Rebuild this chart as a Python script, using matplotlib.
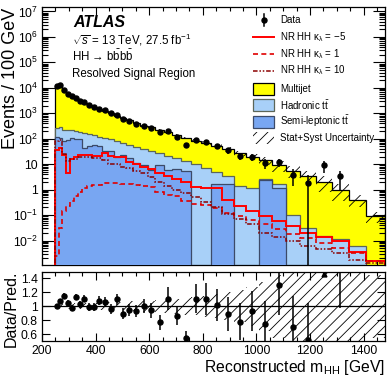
import numpy as np
import matplotlib
matplotlib.use('Agg')
import matplotlib.pyplot as plt
from matplotlib.ticker import FixedLocator, FixedFormatter, MultipleLocator, NullFormatter
from matplotlib.lines import Line2D
from matplotlib.patches import Rectangle

plt.rcParams['font.family'] = ['Liberation Sans', 'DejaVu Sans']
plt.rcParams['mathtext.fontset'] = 'custom'
plt.rcParams['mathtext.rm'] = 'Liberation Sans'
plt.rcParams['mathtext.it'] = 'Liberation Sans:italic'
plt.rcParams['mathtext.bf'] = 'Liberation Sans:bold'
plt.rcParams['hatch.linewidth'] = 0.6

# ---------------- data ----------------
bin_edges = [250, 262, 275, 289, 303, 318, 334, 350, 367, 385, 404, 424, 445, 467,
             490, 514, 539, 566, 594, 623, 654, 686, 720, 755, 792, 831, 872, 915,
             960, 1008, 1057, 1109, 1164, 1221, 1281, 1344, 1410, 1480]

multijet = [11487, 12000, 7019, 5270, 4452, 3338, 2900, 2342, 1983, 1643, 1293, 1125,
            952, 728, 591, 467, 359, 291, 254, 202, 156, 120, 93, 73, 62, 47, 35.7,
            26.1, 18.8, 12.2, 7.7, 5.5, 3.47, 2.08, 0.99, 0.40, 0.09]
hadronic = [146, 193, 146, 134, 118, 113, 93, 127, 105, 77, 70, 73, 63, 65, 46, 40.5,
            37, 30.4, 27.9, 17.4, 15.9, 11.5, 8.8, 10, 7, 3.3, 1.7, 1.4, 1.2, 0.2, 0.4,
            0.1, 0.03, 0.015, 0.012, 0.006, 0]
semileptonic = [117, 107, 79, 91, 107, 97, 97, 43, 50, 58, 50, 32, 32, 20, 24, 17.5,
                11, 9.6, 6.1, 9.6, 6.1, 6.5, 5.2, 0, 0, 1.7, 1.6, 0, 0, 2.4, 1.2,
                0, 0, 0, 0, 0, 0]
syst_rel = [0.03, 0.03, 0.035, 0.035, 0.035, 0.04, 0.04, 0.04, 0.045, 0.045, 0.05, 0.05,
            0.055, 0.06, 0.06, 0.07, 0.07, 0.08, 0.08, 0.09, 0.10, 0.11, 0.12, 0.13,
            0.15, 0.17, 0.20, 0.23, 0.28, 0.35, 0.45, 0.48, 0.50, 0.60, 0.65, 0.50, 0.45]

sig_km5 = [37.2, 42.7, 23.4, 4.5, 15.8, 20.0, 23.4, 24.0, 24.0, 21.4, 21.4, 26.9, 21.4,
           20.0, 18.6, 12.0, 10.0, 7.6, 6.3, 4.5, 3.3, 2.6, 2.0, 1.32, 1.2, 1.12, 0.38,
           0.22, 0.14, 0.089, 0.058, 0.039, 0.020, 0.014, 0.010, 0.0035, 0.0016]
sig_k1 = [0.0025, 0.032, 0.14, 0.22, 0.35, 0.56, 0.79, 1.12, 1.35, 1.48, 1.58, 1.91,
          1.86, 1.78, 1.74, 1.66, 1.58, 1.41, 1.26, 0.79, 0.63, 0.55, 0.35, 0.28, 0.25,
          0.19, 0.126, 0.089, 0.063, 0.043, 0.028, 0.018, 0.0126, 0.0079, 0.005,
          0.0032, 0.0016]
sig_k10 = [79, 89, 25, 14, 15.8, 16.6, 20, 20, 20, 17.4, 17.4, 15.1, 10.5, 10.5, 7.9,
           7.1, 5.2, 4.5, 3.16, 2.0, 1.41, 1.0, 0.71, 0.5, 0.32, 0.2, 0.112, 0.071,
           0.045, 0.02, 0.014, 0.01, 0.0063, 0.0045, 0.0032, 0.0018, 0.0013]

# observed data / prediction (35 filled bins) and its stat. error
ratio_obs = [1.01, 1.07, 1.15, 1.05, 0.98, 1.13, 1.03, 1.11, 0.99, 0.99, 1.08, 1.06,
             0.96, 1.10, 0.89, 0.95, 0.93, 1.00, 0.94, 0.77, 1.11, 0.86, 0.55, 1.11,
             1.11, 1.02, 0.89, 0.78, 0.93, 0.75, 1.31, 0.70, 0.52, 4.3, 3.3]
ratio_err = [0.025, 0.03, 0.035, 0.04, 0.04, 0.045, 0.05, 0.05, 0.055, 0.06, 0.065,
             0.07, 0.075, 0.08, 0.08, 0.085, 0.09, 0.10, 0.11, 0.11, 0.17, 0.13, 0.09,
             0.21, 0.23, 0.23, 0.24, 0.26, 0.29, 0.33, 0.44, 0.45, 0.52, 2.1, 2.32]

x_ticks = [200, 400, 600, 800, 1000, 1200, 1400]
y_ticks = [1e-2, 1e-1, 1, 10, 1e2, 1e3, 1e4, 1e5, 1e6, 1e7]
y_ticklabels = ['$10^{-2}$', '$10^{-1}$', '1', '10', '$10^{2}$', '$10^{3}$',
                '$10^{4}$', '$10^{5}$', '$10^{6}$', '$10^{7}$']
r_ticks = [0.6, 0.8, 1.0, 1.2, 1.4]
r_ticklabels = ['0.6', '0.8', '1', '1.2', '1.4']

# ---------------- figure ----------------
W, H = 390, 378
fig = plt.figure(figsize=(W / 100, H / 100), dpi=100)
def fx(px): return px / W
def fy(py): return 1 - py / H

ax = fig.add_axes([fx(42), fy(265), fx(385) - fx(42), fy(7) - fy(265)])
rax = fig.add_axes([fx(42), fy(341), fx(385) - fx(42), fy(271.5) - fy(341)])

edges = np.array(bin_edges, float)
centers = 0.5 * (edges[1:] + edges[:-1])
S = np.array(semileptonic, float)
Hd = np.array(hadronic, float)
M = np.array(multijet, float)
T = S + Hd + M
floor = 1e-6

def pos(v):
    v = np.asarray(v, float)
    return np.where(v > 0, v, floor)

col_mj, col_had, col_sl = '#ffff00', '#a8d0f8', '#78a6f2'
layers = [(T, col_mj, '#000000'), (S + Hd, col_had, '#5c6658'), (S, col_sl, '#3c4a68')]
for i, (vals, fc, ec) in enumerate(layers):
    ax.stairs(pos(vals), edges, baseline=floor, fill=True, color=fc, lw=0, zorder=1 + i)
    ax.stairs(pos(vals), edges, baseline=floor, fill=False, color=ec, lw=0.9, zorder=1.5 + i)

ax.stairs(pos(sig_km5), edges, baseline=floor, color='#ff0000', lw=1.4, zorder=5)
ax.stairs(pos(sig_k1), edges, baseline=floor, color='#e00000', lw=1.2, ls=(0, (3, 2)), zorder=5)
ax.stairs(pos(sig_k10), edges, baseline=floor, color='#8b0000', lw=1.1,
          ls=(0, (3, 1.2, 1, 1.2, 1, 1.2)), zorder=5)

syst = np.array(syst_rel)
ax.stairs(T * (1 + syst), edges, baseline=T * (1 - syst), fill=True, facecolor='none',
          edgecolor='k', hatch='///', lw=0, zorder=6)

n = len(ratio_obs)
rv = np.array(ratio_obs)
re = np.array(ratio_err)
D = rv * T[:n]
De = re * T[:n]
lo = np.minimum(De, D - floor)
ax.errorbar(centers[:n], D, yerr=[lo, De], fmt='o', color='k', ms=3.6, lw=1.1,
            capsize=0, zorder=8)

ax.set_yscale('log')
ax.set_xlim(200, 1480)
ax.set_ylim(1.1e-3, 1.5e7)
ax.yaxis.set_major_locator(FixedLocator(y_ticks))
ax.yaxis.set_major_formatter(FixedFormatter(y_ticklabels))
minors = [m * 10.0 ** e for e in range(-3, 8) for m in range(2, 10)]
ax.yaxis.set_minor_locator(FixedLocator(minors))
ax.yaxis.set_minor_formatter(NullFormatter())
ax.xaxis.set_major_locator(FixedLocator(x_ticks))
ax.xaxis.set_minor_locator(MultipleLocator(50))
ax.tick_params(axis='x', labelbottom=False)

# ratio panel
rax.stairs(1 + syst, edges, baseline=1 - syst, fill=True, facecolor='none',
           edgecolor='k', hatch='///', lw=0, zorder=2)
rax.axhline(1.0, color='k', lw=0.9, zorder=3)
rax.errorbar(centers[:n], rv, yerr=re, fmt='o', color='k', ms=3.6, lw=1.1,
             capsize=0, zorder=5, clip_on=True)
off = (rv - re) > 1.5
rax.plot(centers[:n][off], np.full(off.sum(), 1.465), '^', color='k', ms=3.5, zorder=6)
rax.set_xlim(200, 1480)
rax.set_ylim(0.5, 1.5)
rax.yaxis.set_major_locator(FixedLocator(r_ticks))
rax.yaxis.set_major_formatter(FixedFormatter(r_ticklabels))
rax.xaxis.set_major_locator(FixedLocator(x_ticks))
rax.xaxis.set_minor_locator(MultipleLocator(50))

for a in (ax, rax):
    a.tick_params(which='both', direction='in', top=True, right=True, labelsize=8.8,
                  width=0.8, pad=3)
    for sp in a.spines.values():
        sp.set_linewidth(0.9)
ax.tick_params(axis='y', which='major', length=9)
ax.tick_params(axis='y', which='minor', length=4.5)
ax.tick_params(axis='x', which='major', length=6)
ax.tick_params(axis='x', which='minor', length=3)
rax.tick_params(axis='y', which='major', length=6)
rax.tick_params(axis='x', which='major', length=6)
rax.tick_params(axis='x', which='minor', length=3)

fig.text(fx(11), fy(8), 'Events / 100 GeV', rotation=90, ha='center', va='top', fontsize=13)
fig.text(fx(11), fy(347), 'Data/Pred.', rotation=90, ha='center', va='bottom', fontsize=11.5)
fig.text(fx(385), fy(372), r'Reconstructed m$_{\mathrm{HH}}$ [GeV]', ha='right',
         va='baseline', fontsize=11.3)

# annotations
fig.text(fx(73), fy(27), 'ATLAS', fontsize=11.5, fontweight='bold', style='italic',
         va='baseline')
fig.text(fx(72), fy(44), r'$\sqrt{s}$ = 13 TeV, 27.5 fb$^{-1}$', fontsize=8.3, va='baseline')
fig.text(fx(72), fy(61), r'HH → $\mathrm{b\bar{b}b\bar{b}}$', fontsize=8.3, va='baseline')
fig.text(fx(72), fy(77.5), 'Resolved Signal Region', fontsize=8.3, va='baseline')

# legend (manual)
lx0, lx1, tx = 253, 274, 280
fs_leg = 7
def tr(px, py): return (fx(px), fy(py))
fig.add_artist(Line2D([fx(263.5)] * 2, [fy(14), fy(26)], color='k', lw=1.1))
fig.add_artist(Line2D([fx(263.5)], [fy(20)], marker='o', color='k', ms=3.6))
fig.text(*tr(tx, 20), 'Data', fontsize=fs_leg, va='center')
fig.add_artist(Line2D([fx(lx0), fx(lx1)], [fy(37)] * 2, color='#ff0000', lw=1.4))
fig.text(*tr(tx, 37), r'NR HH $\mathrm{\kappa_{\lambda}}$ = $-$5', fontsize=fs_leg, va='center')
fig.add_artist(Line2D([fx(lx0), fx(lx1)], [fy(54)] * 2, color='#e00000', lw=1.2,
                      ls=(0, (3, 2))))
fig.text(*tr(tx, 54), r'NR HH $\mathrm{\kappa_{\lambda}}$ = 1', fontsize=fs_leg, va='center')
fig.add_artist(Line2D([fx(lx0), fx(lx1)], [fy(70.5)] * 2, color='#8b0000', lw=1.1,
                      ls=(0, (3, 1.2, 1, 1.2, 1, 1.2))))
fig.text(*tr(tx, 70.5), r'NR HH $\mathrm{\kappa_{\lambda}}$ = 10', fontsize=fs_leg, va='center')
boxes = [(88.5, col_mj, '#000000', 'Multijet'),
         (105, col_had, '#5c6658', r'Hadronic $\mathrm{t\bar{t}}$'),
         (121.5, col_sl, '#3c4a68', r'Semi-leptonic $\mathrm{t\bar{t}}$')]
for yc, fc, ec, lab in boxes:
    fig.add_artist(Rectangle((fx(lx0), fy(yc + 6)), fx(lx1) - fx(lx0), fy(yc - 6) - fy(yc + 6),
                             facecolor=fc, edgecolor=ec, lw=0.9, transform=fig.transFigure))
    fig.text(*tr(tx, yc), lab, fontsize=fs_leg, va='center')
fig.add_artist(Rectangle((fx(lx0), fy(144)), fx(lx1) - fx(lx0), fy(132) - fy(144),
                         facecolor='none', edgecolor='k', lw=0, hatch='///',
                         transform=fig.transFigure))
fig.text(*tr(tx, 138), 'Stat+Syst Uncertainty', fontsize=fs_leg, va='center')

fig.savefig('out.png', dpi=100)
